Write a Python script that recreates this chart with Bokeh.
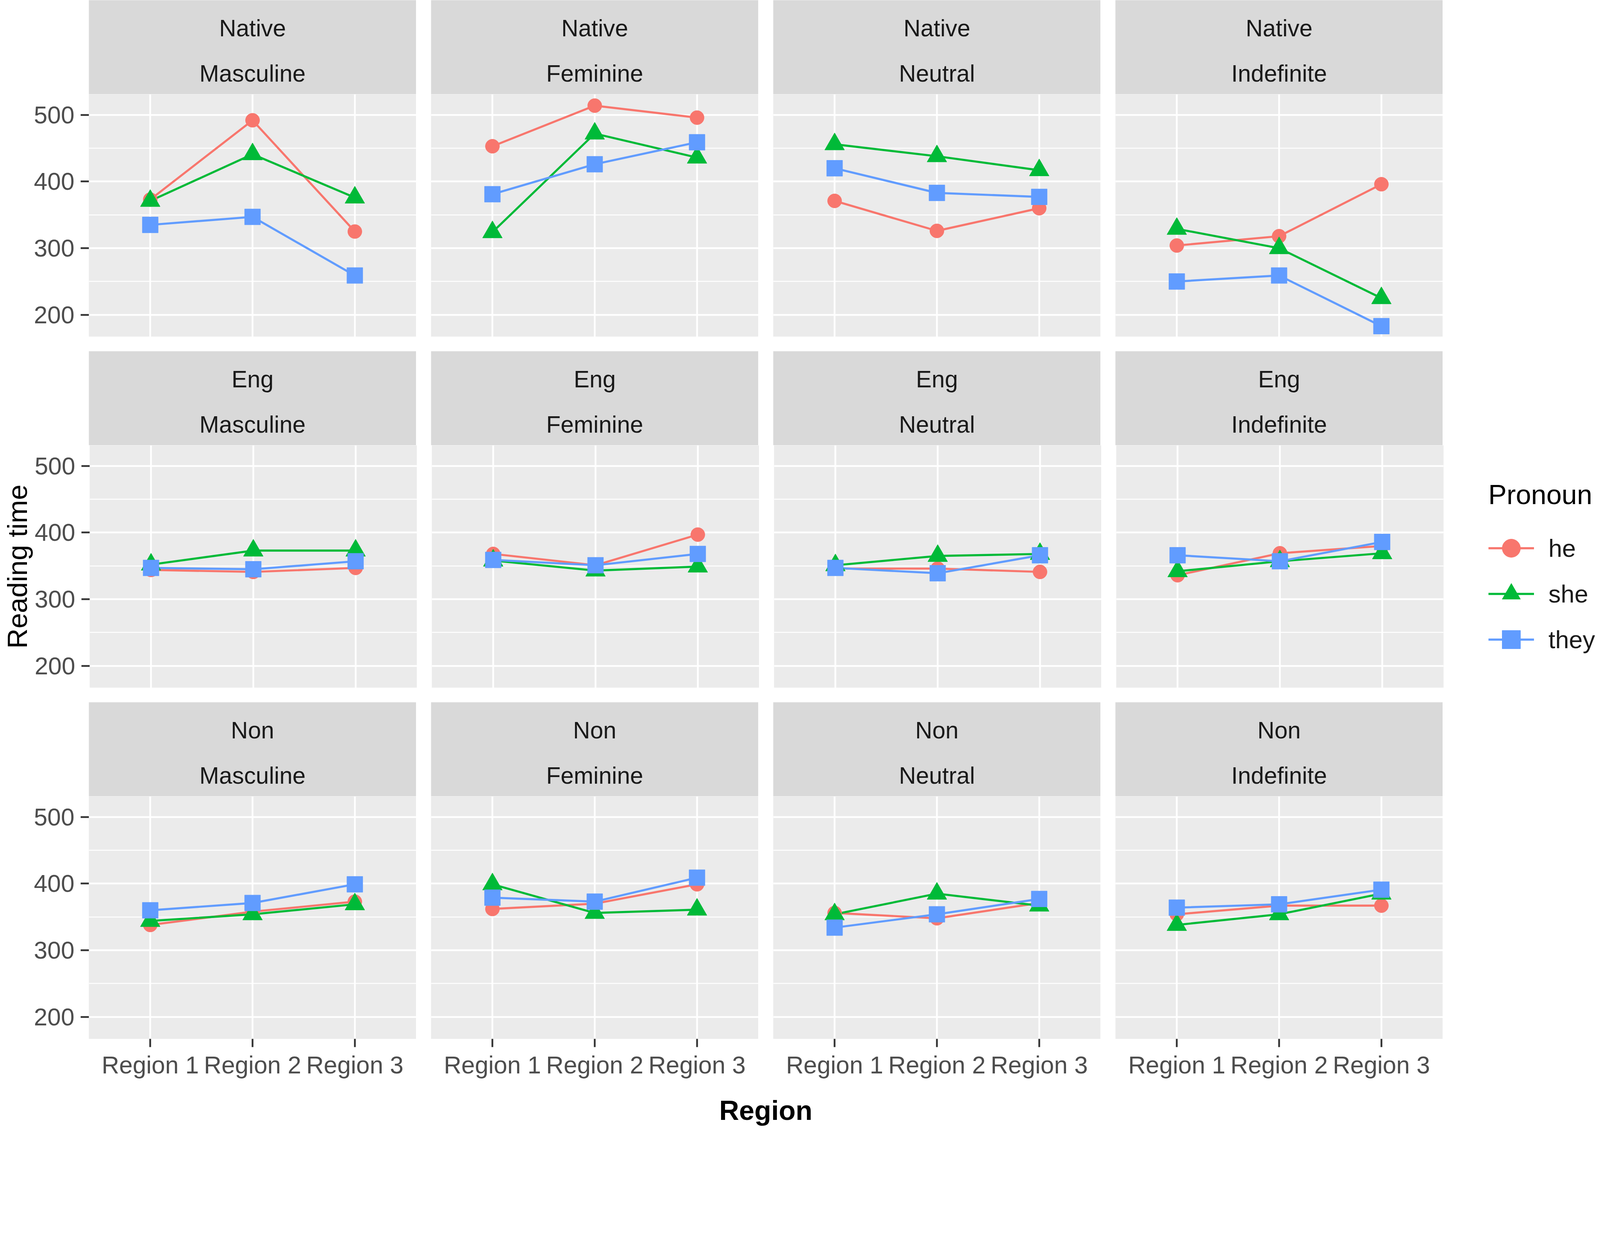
from bokeh.plotting import figure
from bokeh.layouts import column, row
from bokeh.models import Range1d, FactorRange, FixedTicker, Legend, LegendItem
from bokeh.core.properties import value
from bokeh.embed import file_html
from bokeh.resources import INLINE

# ---------------- data ----------------
regions = ["Region 1", "Region 2", "Region 3"]
groups = ["Native", "Eng", "Non"]
genders = ["Masculine", "Feminine", "Neutral", "Indefinite"]
pronouns = ["he", "she", "they"]
y_ticks = [200, 300, 400, 500]
y_minor = [250, 350, 450]

# values per gender (Masculine, Feminine, Neutral, Indefinite) x region
native_he = [[373, 492, 325], [453, 514, 496], [371, 326, 360], [304, 318, 396]]
native_she = [[371, 441, 376], [324, 472, 436], [456, 438, 417], [329, 300, 225]]
native_they = [[335, 347, 259], [381, 426, 459], [420, 383, 377], [250, 259, 183]]

eng_he = [[344, 341, 347], [368, 351, 397], [346, 346, 341], [336, 369, 380]]
eng_she = [[352, 373, 373], [358, 343, 349], [351, 365, 368], [342, 357, 369]]
eng_they = [[347, 345, 357], [359, 351, 368], [347, 339, 366], [366, 357, 386]]

non_he = [[338, 358, 373], [362, 370, 399], [356, 348, 371], [354, 367, 367]]
non_she = [[344, 354, 369], [399, 356, 361], [354, 385, 367], [338, 354, 385]]
non_they = [[360, 371, 399], [379, 373, 409], [334, 354, 377], [364, 369, 391]]

data = {
    "Native": {"he": native_he, "she": native_she, "they": native_they},
    "Eng": {"he": eng_he, "she": eng_she, "they": eng_they},
    "Non": {"he": non_he, "she": non_she, "they": non_they},
}

# ---------------- style ----------------
S = 0.902  # css px per reference px


def px(v):
    return int(round(v * S))


def fs(v):
    return f"{v * S:.1f}px"


FONT = "Liberation Sans"
FW, PH, SH = px(929), px(688), px(267)
VGAP, HGAP = px(41), px(42)
LB = px(261) - 8
YMIN, YMAX = 167, 531
colors = {"he": "#F8766D", "she": "#00BA38", "they": "#619CFF"}
markers = {"he": "circle", "she": "triangle", "they": "square"}
msize = {"he": 40 * S, "she": 56 * S, "they": 45 * S}


def make_strip(group, gender, ci, ri):
    s = figure(frame_width=FW, frame_height=SH, x_range=Range1d(0, 1), y_range=Range1d(0, 1),
               x_axis_location=None, y_axis_location=None, toolbar_location=None,
               output_backend="svg", min_border=0, background_fill_color="#D9D9D9",
               outline_line_color=None, border_fill_color="white")
    s.min_border_left = LB if ci == 0 else HGAP
    s.min_border_top = 0 if ri == 0 else VGAP
    s.grid.visible = False
    s.text(x=[0.5, 0.5], y=[0.705, 0.22], text=[group, gender],
           text_font=value(FONT), text_font_size=fs(67), text_color="#1A1A1A",
           text_align="center", text_baseline="middle")
    return s


def make_panel(group, gi, gender, ci):
    last = gi == len(groups) - 1
    p = figure(frame_width=FW, frame_height=PH,
               x_range=FactorRange(*regions, range_padding=0.1, range_padding_units="absolute"),
               y_range=Range1d(YMIN, YMAX),
               x_axis_location="below" if last else None,
               y_axis_location="left" if ci == 0 else None,
               toolbar_location=None, output_backend="svg", min_border=0,
               background_fill_color="#EBEBEB", outline_line_color=None,
               border_fill_color="white")
    p.min_border_left = LB if ci == 0 else HGAP
    if last:
        p.min_border_bottom = 105
    p.ygrid.ticker = FixedTicker(ticks=y_ticks, minor_ticks=y_minor)
    p.ygrid.grid_line_color = "white"
    p.ygrid.grid_line_width = 5 * S
    p.ygrid.minor_grid_line_color = "white"
    p.ygrid.minor_grid_line_width = 2.6 * S
    p.xgrid.grid_line_color = "white"
    p.xgrid.grid_line_width = 5 * S
    for ax in p.yaxis:
        ax.ticker = FixedTicker(ticks=y_ticks)
        ax.major_label_text_font = FONT
        ax.major_label_text_font_size = fs(69)
        ax.major_label_text_color = "#4D4D4D"
        ax.major_tick_out = px(23)
        ax.major_tick_in = 0
        ax.major_tick_line_color = "#333333"
        ax.major_tick_line_width = 5 * S
        ax.minor_tick_line_color = None
        ax.axis_line_color = None
        ax.major_label_standoff = px(18)
        if gi == 1:
            ax.axis_label = "Reading time"
            ax.axis_label_text_font = FONT
            ax.axis_label_text_font_size = fs(79)
            ax.axis_label_text_font_style = "normal"
            ax.axis_label_text_color = "black"
            ax.axis_label_standoff = 2
    for ax in p.xaxis:
        ax.major_label_text_font = FONT
        ax.major_label_text_font_size = fs(69)
        ax.major_label_text_color = "#4D4D4D"
        ax.major_tick_out = px(23)
        ax.major_tick_in = 0
        ax.major_tick_line_color = "#333333"
        ax.major_tick_line_width = 5 * S
        ax.axis_line_color = None
        ax.major_label_standoff = px(12)

    k = genders.index(gender)
    lines, points = {}, {}
    for pr in pronouns:
        lines[pr] = p.line(x=regions, y=data[group][pr][k], line_color=colors[pr], line_width=6 * S)
    for pr in pronouns:
        points[pr] = p.scatter(x=regions, y=data[group][pr][k], marker=markers[pr],
                               size=msize[pr], fill_color=colors[pr], line_color=colors[pr])
    return p, lines, points


rows = []
for gi, group in enumerate(groups):
    strips = [make_strip(group, g, ci, gi) for ci, g in enumerate(genders)]
    panels = []
    for ci, g in enumerate(genders):
        p, lines, points = make_panel(group, gi, g, ci)
        if gi == 1 and ci == len(genders) - 1:
            items = [LegendItem(label=pr, renderers=[lines[pr], points[pr]]) for pr in pronouns]
            leg = Legend(items=items, location=(px(128), 65), title="Pronoun",
                         title_text_font=FONT, title_text_font_size=fs(78),
                         title_text_font_style="normal", title_text_color="black",
                         title_standoff=38,
                         label_text_font=FONT, label_text_font_size=fs(70),
                         label_text_color="#1A1A1A", label_standoff=px(41),
                         glyph_width=px(130), glyph_height=px(130), label_height=px(130),
                         spacing=0, padding=0, margin=0,
                         border_line_color=None, background_fill_alpha=0)
            p.add_layout(leg, "right")
            p.min_border_right = 385
        panels.append(p)
    rows.append(row(*strips))
    rows.append(row(*panels))

total_frame = 4 * FW + 3 * HGAP
t = figure(frame_width=total_frame, frame_height=10, x_range=Range1d(0, 1), y_range=Range1d(0, 1),
           x_axis_location="below", y_axis_location=None, toolbar_location=None,
           output_backend="svg", min_border=0, outline_line_color=None,
           background_fill_color="white", border_fill_color="white")
t.min_border_left = LB
t.grid.visible = False
tax = t.xaxis[0]
tax.ticker = FixedTicker(ticks=[])
tax.axis_line_color = None
tax.major_tick_line_color = None
tax.minor_tick_line_color = None
tax.axis_label = "Region"
tax.axis_label_text_font = FONT
tax.axis_label_text_font_size = fs(78)
tax.axis_label_text_font_style = "bold"
tax.axis_label_text_color = "black"
tax.axis_label_standoff = 28

layout = column(*rows, t)
open("out.html", "w").write(file_html(layout, INLINE))
